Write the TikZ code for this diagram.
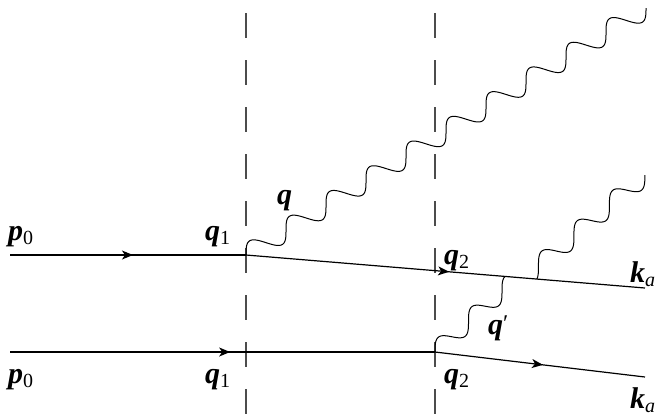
\documentclass[tikz,border=0pt]{standalone}
\usepackage{fontspec}
\setmainfont{Liberation Serif}
\usetikzlibrary{arrows.meta,decorations.markings,calc}
\newcommand\lb[2]{{\bfseries\itshape #1}\raisebox{-4pt}{\fontsize{20pt}{20pt}\selectfont #2}}
\tikzset{
  fermion/.style={line width=1.2pt, black},
  midarrow/.style={postaction={decorate}, decoration={markings,
      mark=at position #1 with {\arrow{Stealth[length=11pt,width=9pt,inset=3pt]}}}},
  photon/.style={line width=1pt, black},
  cutline/.style={line width=1.3pt, black!70, dash pattern=on 25pt off 22pt},
  lab/.style={inner sep=0pt, anchor=base west, font=\fontsize{30pt}{30pt}\selectfont}
}
\begin{document}
\begin{tikzpicture}[x=1pt,y=-1pt]
\useasboundingbox (0,0) rectangle (663,416);
% vertices
\coordinate (a1) at (10,255);
\coordinate (v1) at (246,255);
\coordinate (e1) at (645,288);
\coordinate (a2) at (10,352);
\coordinate (v2) at (435,352);
\coordinate (e2) at (645,377);
\coordinate (w2) at ($(v1)!0.729!(e1)$);
\coordinate (d1t) at (246,13);
\coordinate (d1b) at (246,416);
\coordinate (d2t) at (435,13);
\coordinate (d2b) at (435,416);
% cuts
\draw[cutline] (d1t) -- (d1b);
\draw[cutline] (d2t) -- (d2b);
% fermion lines
\draw[fermion, midarrow=0.521] (a1) -- (v1);
\draw[fermion, midarrow=0.509] (v1) -- (e1);
\draw[fermion, midarrow=0.518] (a2) -- (v2);
\draw[fermion, midarrow=0.514] (v2) -- (e2);
% photons
\draw[photon, shift={(v1)}] plot[variable=\t, domain=0:400, samples=600, smooth]
  ({\t - 6.36620*sin(9*\t)}, {-(0.6175*\t + 8*sin(9*\t))});
\draw[photon, shift={(w2)}] plot[variable=\t, domain=0:113.3, samples=200, smooth]
  ({\t - 5.64527*(sin(-70+10.14942*\t)-sin(-70))}, {-(0.8565*\t + 7.41*(sin(-70+10.14942*\t)-sin(-70)))});
\draw[photon, shift={(v2)}] plot[variable=\t, domain=0:75.375, samples=150, smooth]
  ({\t - 5.33169*sin(10.74627*\t)}, {-(0.911*\t + 6.9*sin(10.74627*\t))});
% labels
\node[lab] (lp0a) at (8,240) {\lb{p}{0}};
\node[lab] (lq1a) at (205,240) {\lb{q}{1}};
\node[lab] (lq) at (277,204) {\lb{q}{}};
\node[lab] (lq2a) at (444,264) {\lb{q}{2}};
\node[lab] (lka) at (630,282) {\lb{k}{\itshape a}};
\node[lab] (lqp) at (488,334) {\lb{q}{}\raisebox{3pt}{\fontsize{24pt}{24pt}\selectfont ′}};
\node[lab] (lp0b) at (8,383) {\lb{p}{0}};
\node[lab] (lq1b) at (205,383) {\lb{q}{1}};
\node[lab] (lq2b) at (444,383) {\lb{q}{2}};
\node[lab] (lkb) at (630,408) {\lb{k}{\itshape a}};
\end{tikzpicture}
\end{document}
